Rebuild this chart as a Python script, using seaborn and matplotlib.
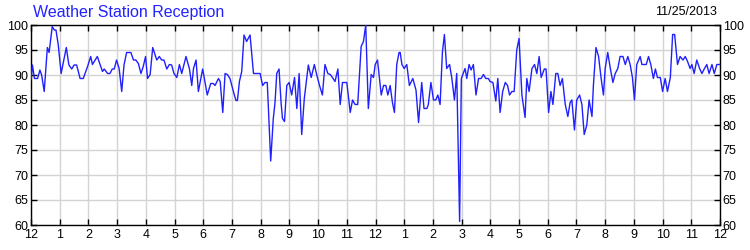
import matplotlib
matplotlib.use("Agg")
import matplotlib.pyplot as plt
import seaborn as sns
import pandas as pd

title = "Weather Station Reception"
date_label = "11/25/2013"
hour_ticks = list(range(0, 25))
hour_labels = ["12", "1", "2", "3", "4", "5", "6", "7", "8", "9", "10", "11",
               "12", "1", "2", "3", "4", "5", "6", "7", "8", "9", "10", "11", "12"]
y_ticks = [60, 65, 70, 75, 80, 85, 90, 95, 100]

hours = [
    0.00, 0.05, 0.12, 0.23, 0.31, 0.37, 0.46, 0.57, 0.63, 0.74, 0.81, 0.87, 0.95,
    1.05, 1.23, 1.32, 1.42, 1.50, 1.59, 1.71, 1.82, 1.97, 2.08, 2.14, 2.31, 2.49,
    2.55, 2.67, 2.75, 2.83, 2.90, 2.98, 3.07, 3.16, 3.24, 3.33, 3.48, 3.57, 3.65,
    3.74, 3.83, 3.91, 3.99, 4.06, 4.15,
    4.24, 4.38, 4.47, 4.55, 4.63, 4.73, 4.82, 4.90, 4.98, 5.08, 5.17, 5.25, 5.40,
    5.52, 5.60, 5.66, 5.75, 5.83, 5.98, 6.14, 6.26, 6.35, 6.41, 6.53, 6.59, 6.68,
    6.76, 6.84, 6.93, 7.05, 7.14, 7.19, 7.26, 7.34, 7.42, 7.51, 7.63, 7.75, 7.84,
    7.98, 8.07, 8.15, 8.23, 8.35, 8.44, 8.50,
    8.56, 8.64, 8.71, 8.76, 8.83, 8.91, 8.99, 9.08, 9.18, 9.26, 9.34, 9.43, 9.52,
    9.61, 9.66, 9.76, 9.87, 9.95, 10.05, 10.15, 10.24, 10.34, 10.42, 10.50, 10.59,
    10.69, 10.77, 10.85, 11.00, 11.12, 11.20, 11.29, 11.38, 11.50, 11.58, 11.66,
    11.75, 11.85, 11.93, 11.99, 12.07, 12.20, 12.28, 12.36, 12.43, 12.51, 12.59,
    12.66, 12.74, 12.82, 12.86,
    12.92, 13.00, 13.09, 13.18, 13.30, 13.41, 13.50, 13.61, 13.69, 13.79, 13.84,
    13.93, 14.02, 14.10, 14.17, 14.25, 14.33, 14.40, 14.48, 14.58, 14.66, 14.75,
    14.83, 14.93, 14.99, 15.12, 15.18, 15.26, 15.33, 15.41, 15.50, 15.59,
    15.68, 15.76, 15.84, 15.93, 15.99, 16.09, 16.19, 16.26, 16.34, 16.43, 16.52,
    16.60, 16.67, 16.75, 16.83, 16.92, 17.00, 17.10, 17.21,
    17.27, 17.35, 17.45, 17.54, 17.62, 17.70, 17.77, 17.88, 17.94, 18.03, 18.11,
    18.18, 18.28, 18.35, 18.43, 18.51, 18.61, 18.70, 18.78, 18.84, 18.93, 19.01,
    19.11, 19.19, 19.27, 19.36, 19.44, 19.54, 19.59, 19.68, 19.77, 19.86, 19.94,
    20.00, 20.09, 20.18, 20.27, 20.35, 20.44, 20.52, 20.62, 20.70, 20.79, 20.87,
    20.95, 21.02, 21.10,
    21.22, 21.28, 21.36, 21.43, 21.51, 21.59, 21.68, 21.75, 21.82, 21.92, 22.00,
    22.09, 22.17, 22.27, 22.35, 22.42, 22.52, 22.61, 22.71, 22.79, 22.87, 22.96,
    23.02, 23.10, 23.19, 23.29, 23.37, 23.45, 23.54, 23.62, 23.72, 23.80, 23.89,
    24.00,
]

reception = [
    89.0, 92.0, 89.3, 89.3, 91.0, 90.0, 86.7, 95.5, 94.5, 99.7, 99.0, 99.0, 96.0,
    90.3, 95.5, 92.0, 91.2, 92.0, 92.0, 89.3, 89.3, 91.7, 93.7, 92.1, 93.7, 90.7,
    91.2, 90.3, 90.3, 91.2, 91.2, 93.0, 91.3, 86.7, 92.0, 94.5, 94.5, 93.0, 93.0,
    92.3, 90.3, 91.7, 93.7, 89.3, 90.1,
    95.5, 93.0, 93.7, 93.0, 93.0, 91.2, 92.1, 92.0, 90.3, 89.5, 92.1, 90.3, 93.7,
    91.2, 87.9, 91.3, 93.0, 86.7, 91.2, 86.0, 88.3, 88.3, 87.9, 89.3, 88.7, 82.5,
    90.3, 90.1, 89.3, 86.7, 84.9, 84.9, 88.7, 90.7, 98.0, 96.7, 98.0, 90.3, 90.3,
    90.3, 87.9, 88.5, 88.5, 72.8, 81.3, 84.5,
    90.3, 91.2, 84.5, 81.3, 80.7, 87.9, 88.5, 86.0, 89.5, 83.3, 90.3, 78.1, 85.3,
    89.5, 92.0, 89.5, 92.1, 90.1, 87.9, 86.0, 92.1, 90.3, 90.1, 89.5, 88.7,
    91.2, 84.1, 88.5, 88.5, 82.5, 85.0, 84.1, 84.1, 95.7, 96.7, 100.0,
    83.3, 90.1, 89.5, 92.1, 93.0, 86.0, 87.9, 87.9, 86.0, 87.9, 84.5,
    82.5, 92.1, 94.5, 94.5,
    92.1, 91.3, 92.1, 87.9, 89.3, 87.0, 80.5, 88.5, 83.3, 83.3, 84.1,
    88.5, 85.0, 85.0, 86.0, 84.1, 94.5, 98.1, 91.3, 92.1, 89.3, 85.0,
    90.3, 60.7, 89.3, 91.3, 89.3, 92.1, 91.0, 92.1, 86.0, 89.3,
    89.3, 90.1, 89.3, 89.3, 88.7, 88.5, 84.8, 89.3, 82.5, 86.7, 88.5,
    87.9, 86.0, 86.7, 86.7, 95.0, 97.3, 86.0, 81.5,
    89.3, 86.7, 91.3, 92.1, 90.3, 93.7, 89.5, 91.2, 91.2, 82.5, 86.7,
    84.1, 90.3, 90.3, 87.9, 89.3, 84.1, 81.7, 84.5, 85.0, 79.0, 85.0,
    86.0, 84.1, 78.1, 80.0, 85.0, 81.7, 87.9, 95.5, 93.7, 89.3, 86.0,
    91.3, 94.5, 91.3, 88.5, 90.3, 91.3, 93.7, 93.7, 92.1, 93.7, 92.1,
    89.5, 85.0, 92.1,
    93.7, 92.1, 92.1, 92.1, 93.7, 92.1, 89.3, 91.2, 89.5, 89.5, 86.7,
    89.3, 86.7, 89.5, 98.1, 98.1, 92.1, 93.7, 93.0, 93.7, 92.7, 91.3,
    92.1, 90.3, 93.0, 91.3, 90.3, 91.2, 92.1, 90.3, 92.1, 90.3, 92.1,
    92.1,
]

df = pd.DataFrame({"hour": hours, "reception": reception})

sns.set_style("white")
plt.rcParams["font.family"] = ["Liberation Sans", "DejaVu Sans"]

fig = plt.figure(figsize=(7.5, 2.5), dpi=100)
ax = fig.add_axes([31 / 750, 0.1, (720 - 31) / 750, 0.8])

sns.lineplot(data=df, x="hour", y="reception", ax=ax, color="#2020ff",
             linewidth=1.0, zorder=3)

ax.set_xlim(0, 24)
ax.set_ylim(60, 100)
ax.set_xticks(hour_ticks)
ax.set_xticklabels(hour_labels)
ax.set_yticks(y_ticks)
ax.set_yticklabels([str(v) for v in y_ticks])
ax.set_xlabel("")
ax.set_ylabel("")
ax.grid(True, color="#d3d3d3", linewidth=1.0, zorder=0)
ax.set_axisbelow(True)
for s in ax.spines.values():
    s.set_visible(True)
    s.set_color("black")
    s.set_linewidth(1.0)
ax.tick_params(axis="both", direction="in", length=4, width=1, colors="black",
               labelsize=9, top=True, right=True, bottom=True, left=True,
               labelright=True, pad=3)
ax.tick_params(axis="y", pad=2)

fig.text(33 / 750, 1 - 12 / 250, title, color="#2222ff", fontsize=11.5,
         ha="left", va="center")
fig.text(717 / 750, 1 - 12 / 250, date_label, color="black", fontsize=9,
         ha="right", va="center")

fig.savefig("out.png", dpi=100)
